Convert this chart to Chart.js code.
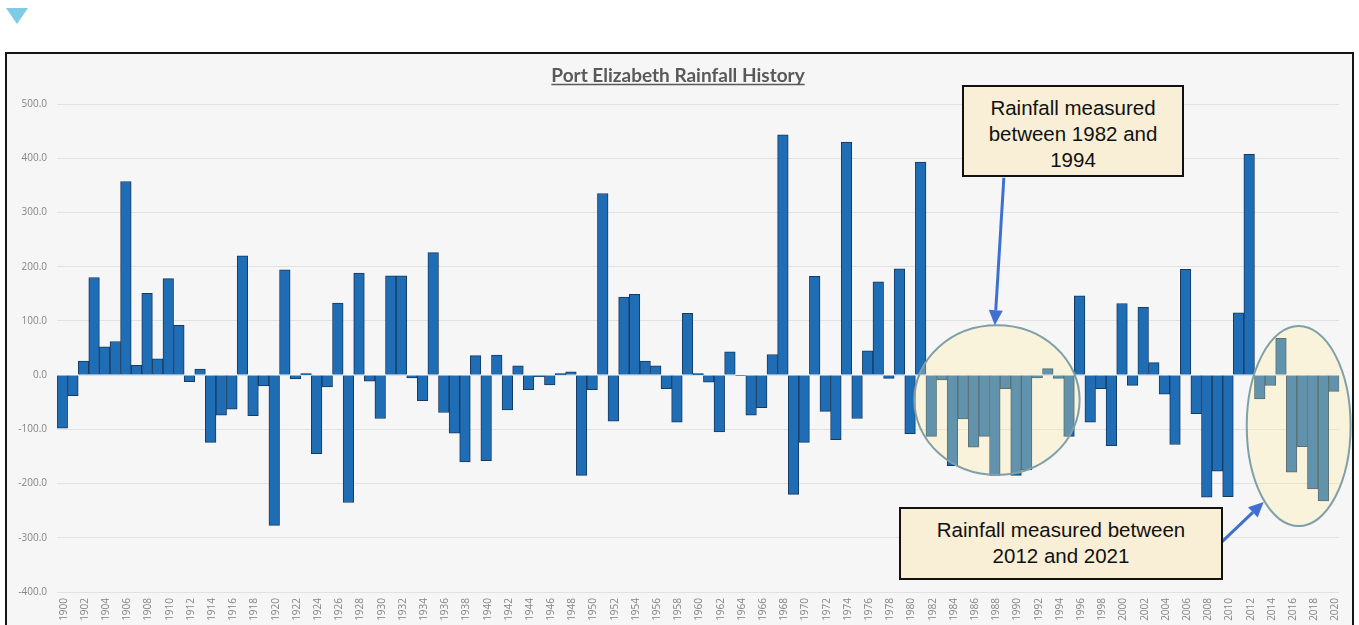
<!DOCTYPE html>
<html>
<head>
<meta charset="utf-8">
<title>Port Elizabeth Rainfall History</title>
<script src="https://cdn.jsdelivr.net/npm/chart.js@4"></script>
<style>
html,body{margin:0;padding:0;width:1359px;height:625px;overflow:hidden;background:#fff}
#tri{position:absolute;left:6px;top:8px;width:22px;height:16px;background:#7fcbe6;clip-path:polygon(0 0,100% 0,50% 100%)}
#frame{position:absolute;left:5px;top:52px;width:1345px;height:640px;border:2px solid #151515;background:#f6f6f6}
#wrap{position:absolute;left:0;top:0;width:1345px;height:571px}
canvas{display:block;filter:blur(.35px)}
.note{position:absolute;box-sizing:border-box;background:#f8efd6;border:2px solid #111;color:#111;
 font-family:"Liberation Sans",Arial,sans-serif;font-size:20.5px;line-height:26px;text-align:center}
</style>
</head>
<body>
<div id="tri"></div>
<div id="frame"><div id="wrap"><canvas id="c" width="1345" height="571"></canvas></div></div>
<div class="note" style="left:962px;top:85px;width:222px;height:92px;padding-top:8px">Rainfall measured<br>between 1982 and<br>1994</div>
<div class="note" style="left:899px;top:507px;width:324px;height:73px;padding-top:8px">Rainfall measured between<br>2012 and 2021</div>
<script>
const chartTitle = "Port Elizabeth Rainfall History";
const years = [];
for (let y = 1900; y <= 2020; y++) years.push(String(y));
const rainfall = [
 -98,-38,26,180,52,62,357,18,151,30,
 178,92,-12,11,-124,-74,-63,220,-75,-20,
 -277,194,-7,3,-145,-22,133,-235,188,-11,
 -80,183,183,-5,-47,226,-69,-107,-160,36,
 -158,37,-64,17,-27,-3,-18,3,6,-185,
 -27,335,-85,144,149,26,17,-25,-87,114,
 3,-13,-105,43,-1,-74,-60,38,443,-220,
 -124,182,-67,-119,430,-80,45,172,-6,196,
 -108,393,-113,-9,-167,-81,-133,-113,-185,-25,
 -185,-175,-5,12,-6,-113,146,-87,-25,-130,
 132,-19,125,23,-35,-128,195,-71,-225,-177,
 -224,115,407,-44,-19,68,-179,-132,-210,-232,-30
];

const overlay = {
  id:'overlay',
  afterDatasetsDraw(chart){
    const {ctx,scales:{x,y}} = chart;
    const X = yr => x.getPixelForValue(yr-1900);
    const Y = v => y.getPixelForValue(v);
    // highlighted periods: centre year, half width in years, centre value, half height in value units
    [[1988.2,7.8,-46,138],[2016.67,4.9,-94,184.5]].forEach(e=>{
      const rx=Math.abs(X(e[0]+e[1])-X(e[0])), ry=Math.abs(Y(e[2]+e[3])-Y(e[2]));
      ctx.save();
      ctx.beginPath();
      ctx.ellipse(X(e[0]),Y(e[2]),rx,ry,0,0,Math.PI*2);
      ctx.fillStyle='rgba(255,235,155,0.30)';
      ctx.fill();
      ctx.lineWidth=2;
      ctx.strokeStyle='#7f9fa9';
      ctx.stroke();
      ctx.restore();
    });
    // arrows from the notes to the highlighted periods
    [[1988.85,364,1988.0,92],[2009.4,-308,2013.37,-234]].forEach(a=>{
      const x0=X(a[0]),y0=Y(a[1]),x1=X(a[2]),y1=Y(a[3]);
      const t=Math.atan2(y1-y0,x1-x0), L=15, W=7;
      const bx=x1-L*Math.cos(t), by=y1-L*Math.sin(t);
      ctx.save();
      ctx.strokeStyle=ctx.fillStyle='#3f6fd0';
      ctx.lineWidth=3;
      ctx.beginPath();ctx.moveTo(x0,y0);ctx.lineTo(bx,by);ctx.stroke();
      ctx.beginPath();ctx.moveTo(x1,y1);
      ctx.lineTo(bx-W*Math.sin(t),by+W*Math.cos(t));
      ctx.lineTo(bx+W*Math.sin(t),by-W*Math.cos(t));
      ctx.closePath();ctx.fill();
      ctx.restore();
    });
    // title underline
    const b=chart.titleBlock;
    ctx.save();
    ctx.font='bold 19px Lato';
    const w=ctx.measureText(chartTitle).width, cx=(b.left+b.right)/2;
    ctx.strokeStyle='#595959';ctx.lineWidth=1.4;
    ctx.beginPath();ctx.moveTo(cx-w/2,30.5);ctx.lineTo(cx+w/2,30.5);ctx.stroke();
    ctx.restore();
  }
};

new Chart(document.getElementById('c'),{
  type:'bar',
  data:{labels:years,datasets:[{data:rainfall,backgroundColor:'#1f6db5',borderColor:'#173a5e',borderWidth:1,
    barPercentage:1,categoryPercentage:1}]},
  plugins:[overlay],
  options:{
    responsive:false,animation:false,
    layout:{padding:{left:9,right:12,top:0,bottom:0}},
    plugins:{
      legend:{display:false},tooltip:{enabled:false},
      title:{display:true,text:chartTitle,color:'#595959',font:{family:'Lato',size:19,weight:'bold',lineHeight:1.2},
        padding:{top:10,bottom:17.2}}
    },
    scales:{
      x:{
        grid:{display:false,drawTicks:false},border:{display:false},
        afterFit(s){s.height=33},
        ticks:{autoSkip:false,maxRotation:90,minRotation:90,padding:6,labelOffset:1.5,color:'#858585',
          font:{family:'"Open Sans"',size:10},
          callback(v,i){return i%2===0?this.getLabelForValue(v):''}}
      },
      y:{
        min:-400,max:500,
        grid:{color:'#e1e1e1',lineWidth:1,drawTicks:false},border:{display:false},
        afterFit(s){s.width=41},
        ticks:{stepSize:100,padding:10,color:'#858585',font:{family:'"Open Sans"',size:10},
          callback(v){return Number(v).toFixed(1)}}
      }
    }
  }
});
</script>
</body>
</html>
